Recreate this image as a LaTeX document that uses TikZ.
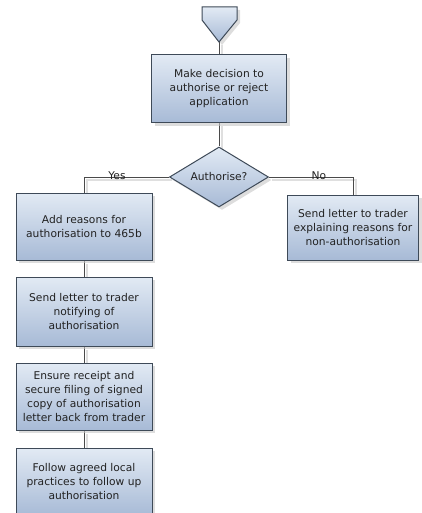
\documentclass[tikz,border=0pt]{standalone}
\usepackage{fontspec}
\setmainfont{DejaVu Sans}
\usetikzlibrary{shapes.geometric,shadows,backgrounds}

\definecolor{boxtop}{HTML}{E2EAF4}
\definecolor{boxbottom}{HTML}{A7BAD6}
\definecolor{boxline}{HTML}{3E4A58}
\definecolor{linkline}{HTML}{4A4A4A}
\definecolor{boxtext}{HTML}{222222}

\tikzset{
  boxshade/.style={top color=boxtop, bottom color=boxbottom, draw=boxline, line width=1pt,
    drop shadow={shadow xshift=3pt, shadow yshift=-3pt, fill=gray!45, opacity=0.6}},
  task/.style={boxshade, rectangle, align=center, inner sep=0pt, text=boxtext},
  choice/.style={boxshade, diamond, aspect=1.65, inner sep=1pt, text=boxtext},
  link/.style={draw=linkline, line width=0.9pt,
    preaction={draw=gray!25, line width=1.4pt, transform canvas={shift={(3pt,-3pt)}}}},
  answer/.style={text=boxtext, inner sep=0pt}
}

\begin{document}
\begin{tikzpicture}[x=1pt, y=-1pt, font=\fontsize{10.7}{14}\selectfont]
    \useasboundingbox (0,0) rectangle (422,513);
    % off-page connector
    \path[boxshade] (202,7) -- (237,7) -- (237,20) -- (219,42) -- (202,20) -- cycle;
    \coordinate (start) at (219,42);
    \node[task, minimum width=135pt, minimum height=68pt] (decide) at (219,89) {Make decision to\\authorise or reject\\application};
    \node[choice, minimum width=99pt, minimum height=60pt] (auth) at (219,177) {Authorise?};
    \node[task, minimum width=136pt, minimum height=67pt] (add) at (84,226.5) {Add reasons for\\authorisation to 465b};
    \node[task, minimum width=131pt, minimum height=65pt] (refuse) at (353,227.5) {Send letter to trader\\explaining reasons for\\non-authorisation};
    \node[task, minimum width=136pt, minimum height=69pt] (notify) at (84,311.5) {Send letter to trader\\notifying of\\authorisation};
    \node[task, minimum width=136pt, minimum height=67pt] (ensure) at (84,396.5) {Ensure receipt and\\secure filing of signed\\copy of authorisation\\letter back from trader};
    \node[task, minimum width=136pt, minimum height=68pt] (follow) at (84,482) {Follow agreed local\\practices to follow up\\authorisation};
    % links
    \begin{scope}[on background layer]
    \draw[link] (start) -- (decide);
    \draw[link] (decide) -- (auth);
    \draw[link] (auth.west) -| (add.north);
    \draw[link] (auth.east) -| (refuse.north);
    \draw[link] (add) -- (notify);
    \draw[link] (notify) -- (ensure);
    \draw[link] (ensure) -- (follow);
    \end{scope}
    \node[answer] (yes) at (117,176) {Yes};
    \node[answer] (no) at (319,176) {No};
\end{tikzpicture}
\end{document}
